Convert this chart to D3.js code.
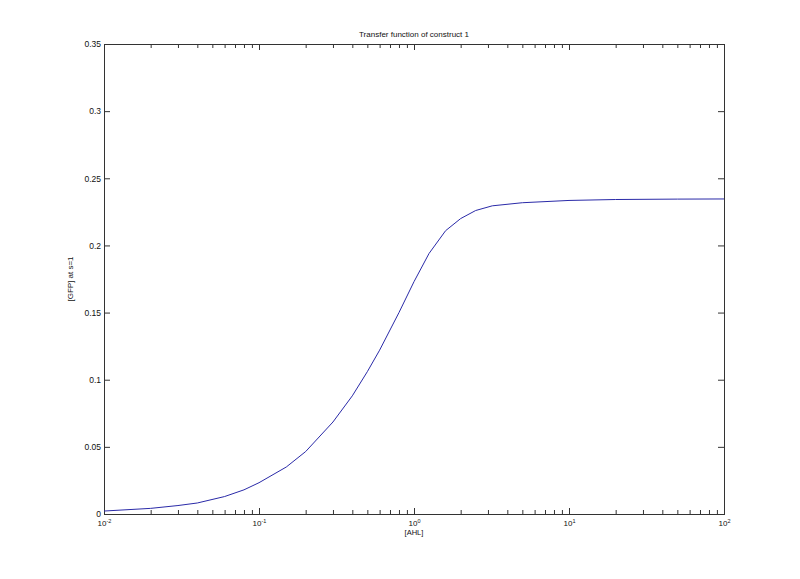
<!DOCTYPE html>
<html>
<head>
<meta charset="utf-8">
<script src="https://cdn.jsdelivr.net/npm/d3@7"></script>
<style>
  html, body { margin: 0; padding: 0; background: #fff; }
  svg { display: block; font-family: "Liberation Sans", Arial, sans-serif; }
</style>
</head>
<body>
<svg id="chart" width="800" height="579"></svg>
<script>
// ---- data ----
const ahl = [0.01, 0.02, 0.03, 0.04, 0.06, 0.08, 0.1, 0.15, 0.2, 0.3, 0.4, 0.5, 0.6, 0.8, 1.0, 1.25, 1.6, 2.0, 2.5, 3.2, 5, 10, 20, 50, 100];
const gfp = [0.0022, 0.0042, 0.0063, 0.0082, 0.0130, 0.0180, 0.0233, 0.0350, 0.0465, 0.0685, 0.0880, 0.1060, 0.1220, 0.1500, 0.1730, 0.1940, 0.2110, 0.2200, 0.2260, 0.2295, 0.2318, 0.2335, 0.2342, 0.2345, 0.2346];
const xMajorTicks = [0.01, 0.1, 1, 10, 100];
const xMajorExp = ["-2", "-1", "0", "1", "2"];
const yTicks = [0, 0.05, 0.1, 0.15, 0.2, 0.25, 0.3, 0.35];
const yTickLabels = ["0", "0.05", "0.1", "0.15", "0.2", "0.25", "0.3", "0.35"];
const titleText = "Transfer function of construct 1";
const xLabelText = "[AHL]";
const yLabelText = "[GFP] at s=1";

// ---- layout ----
const L = 104, R = 724, T = 44, B = 514;
const svg = d3.select("#chart");
const axisColor = "#333";

const x = d3.scaleLog().domain([0.01, 100]).range([L, R]);
const y = d3.scaleLinear().domain([0, 0.35]).range([B, T]);

// minor ticks for log x axis
const xMinor = x.ticks().filter(v => !xMajorTicks.some(m => Math.abs(m - v) / m < 1e-9));

function styleAxis(g) {
  g.select(".domain").remove();
  g.selectAll(".tick line").attr("stroke", axisColor);
  g.selectAll(".tick text").attr("fill", "#111").style("font-size", "8.5px")
    .style("font-family", "'Liberation Sans', Arial, sans-serif");
}

// left y axis (inward ticks)
const gyL = svg.append("g").attr("transform", `translate(${L},0)`)
  .call(d3.axisLeft(y).tickValues(yTicks).tickSizeInner(-6).tickSizeOuter(0).tickPadding(3)
    .tickFormat((d, i) => yTickLabels[i]));
styleAxis(gyL);
// right y axis ticks (inward)
const gyR = svg.append("g").attr("transform", `translate(${R},0)`)
  .call(d3.axisRight(y).tickValues(yTicks).tickSizeInner(-6).tickSizeOuter(0).tickFormat(""));
styleAxis(gyR);

// bottom x axis: major
const gxB = svg.append("g").attr("transform", `translate(0,${B})`)
  .call(d3.axisBottom(x).tickValues(xMajorTicks).tickSizeInner(-6).tickSizeOuter(0).tickPadding(6)
    .tickFormat(() => ""));
styleAxis(gxB);
gxB.selectAll(".tick text").each(function(d, i) {
  const t = d3.select(this);
  t.text(null).attr("text-anchor", "middle").style("font-size", "8px");
  t.append("tspan").text("10");
  t.append("tspan").attr("dy", "-0.5em").style("font-size", "5.5px").text(xMajorExp[i]);
});
// bottom x minor
const gxBm = svg.append("g").attr("transform", `translate(0,${B})`)
  .call(d3.axisBottom(x).tickValues(xMinor).tickSizeInner(-4).tickSizeOuter(0).tickFormat(""));
styleAxis(gxBm);
// top x axis ticks
const gxT = svg.append("g").attr("transform", `translate(0,${T})`)
  .call(d3.axisTop(x).tickValues(xMajorTicks).tickSizeInner(-6).tickSizeOuter(0).tickFormat(""));
styleAxis(gxT);
const gxTm = svg.append("g").attr("transform", `translate(0,${T})`)
  .call(d3.axisTop(x).tickValues(xMinor).tickSizeInner(-4).tickSizeOuter(0).tickFormat(""));
styleAxis(gxTm);

// box
svg.append("rect").attr("x", L).attr("y", T).attr("width", R - L).attr("height", B - T)
  .attr("fill", "none").attr("stroke", axisColor).attr("stroke-width", 1)
  .attr("shape-rendering", "crispEdges");

// the curve
const line = d3.line().x((d, i) => x(ahl[i])).y(d => y(d));
svg.append("path").datum(gfp).attr("d", line)
  .attr("fill", "none").attr("stroke", "#2a2aa8").attr("stroke-width", 1);

// title and labels
svg.append("text").attr("x", (L + R) / 2).attr("y", 37).attr("text-anchor", "middle")
  .style("font-size", "8px").attr("fill", "#111").text(titleText);
svg.append("text").attr("x", (L + R) / 2).attr("y", 535).attr("text-anchor", "middle")
  .style("font-size", "7.5px").attr("fill", "#111").text(xLabelText);
svg.append("text").attr("transform", `translate(73,${(T + B) / 2}) rotate(-90)`)
  .attr("text-anchor", "middle").style("font-size", "8px").attr("fill", "#111").text(yLabelText);
</script>
</body>
</html>
